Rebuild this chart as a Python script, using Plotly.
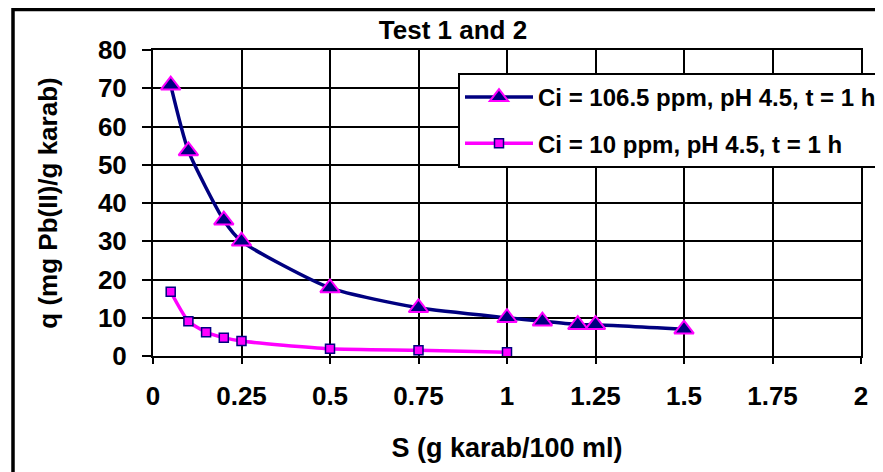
import plotly.graph_objects as go

s1_x = [0.05, 0.1, 0.2, 0.25, 0.5, 0.75, 1.0, 1.1, 1.2, 1.25, 1.5]
s1_y = [70.8, 53.6, 35.5, 30.0, 17.8, 12.6, 10.0, 9.1, 8.2, 8.2, 7.0]
s2_x = [0.05, 0.1, 0.15, 0.2, 0.25, 0.5, 0.75, 1.0]
s2_y = [16.8, 9.1, 6.2, 4.8, 3.9, 1.9, 1.5, 1.0]
s1_name = "Ci = 106.5 ppm, pH 4.5, t = 1 h"
s2_name = "Ci = 10 ppm, pH 4.5, t = 1 h"
x_ticks = [0, 0.25, 0.5, 0.75, 1, 1.25, 1.5, 1.75, 2]
x_labels = ["0", "0.25", "0.5", "0.75", "1", "1.25", "1.5", "1.75", "2"]
y_ticks = [0, 10, 20, 30, 40, 50, 60, 70, 80]

FONT = "Liberation Sans, Arial, sans-serif"
NAVY = "#000080"
MAG = "#FF00FF"

# page body has an 8px margin; figure is sized so it fills the 883x472 window
W, H = 875, 464
L, T = 145, 42
PW, PH = 708, 306

fig = go.Figure()
fig.add_trace(go.Scatter(
    x=s1_x, y=s1_y, name=s1_name, mode="lines+markers", legendgroup="a",
    line=dict(color=NAVY, width=3.5, shape="spline", smoothing=0.6),
    marker=dict(symbol="triangle-up", size=17, color=NAVY, line=dict(color=MAG, width=2)),
))
fig.add_trace(go.Scatter(
    x=s2_x, y=s2_y, name=s2_name, mode="lines+markers", legendgroup="b",
    line=dict(color=MAG, width=3.5, shape="spline", smoothing=0.6),
    marker=dict(symbol="square", size=9, color=MAG, line=dict(color=NAVY, width=1.5)),
))

fig.update_layout(
    width=W, height=H,
    margin=dict(l=L, r=W - L - PW, t=T, b=H - T - PH, autoexpand=False),
    paper_bgcolor="white", plot_bgcolor="white",
    font=dict(family=FONT, color="black", size=26, weight="bold"),
    title=dict(text="Test 1 and 2", x=445/W, y=1-22/H, xref="container", yref="container",
               xanchor="center", yanchor="middle", font=dict(size=26, weight="bold")),
    showlegend=True,
    legend=dict(x=(450-L)/PW, y=(T+PH-65)/PH, xanchor="left", yanchor="top",
                bgcolor="white", bordercolor="black", borderwidth=2,
                font=dict(size=24, weight="bold"), tracegroupgap=12, itemwidth=68),
    xaxis=dict(range=[0, 2], tickvals=x_ticks, ticktext=x_labels, automargin=False,
               showgrid=True, gridcolor="black", gridwidth=2,
               showline=True, linecolor="black", linewidth=2, mirror=True,
               ticks="outside", ticklen=6, tickcolor="black", tickwidth=2,
               ticklabelstandoff=10, zeroline=False, tickfont=dict(size=26),
               title=dict(text="S (g karab/100 ml)", standoff=28, font=dict(size=27, weight="bold"))),
    yaxis=dict(range=[0, 80], tickvals=y_ticks, automargin=False,
               showgrid=True, gridcolor="black", gridwidth=2,
               showline=True, linecolor="black", linewidth=2, mirror=True,
               ticks="outside", ticklen=9, tickcolor="black", tickwidth=2,
               ticklabelstandoff=10, zeroline=False, tickfont=dict(size=26),
               title=dict(text="q (mg Pb(II)/g karab)", standoff=33, font=dict(size=26, weight="bold"))),
)

fig.add_shape(type="rect", xref="paper", yref="paper",
              x0=(5-L)/PW, x1=1.2, y0=-0.5, y1=(T+PH-1.5)/PH,
              line=dict(color="black", width=3.5), fillcolor="rgba(0,0,0,0)", layer="above")

fig.write_html("out.html")
